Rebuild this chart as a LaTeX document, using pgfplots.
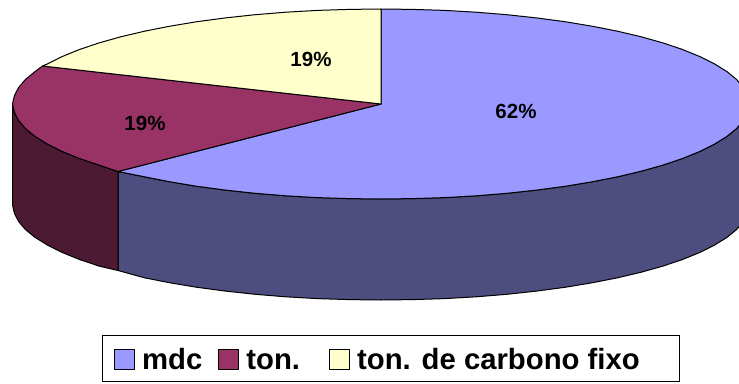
\documentclass[border=0pt]{standalone}
\usepackage{pgfplots}
\pgfplotsset{compat=1.18}
\usepackage{fontspec}
\setmainfont{Liberation Sans}
\definecolor{mdcTop}{HTML}{9999FF}
\definecolor{mdcSide}{HTML}{4D4D80}
\definecolor{tonTop}{HTML}{993366}
\definecolor{tonSide}{HTML}{4D1A33}
\definecolor{fixTop}{HTML}{FFFFCC}
\begin{document}
\begin{tikzpicture}
\path[use as bounding box] (0,0) rectangle (739pt,383pt);
\begin{axis}[
  at={(0,0)}, anchor=south west,
  width=739pt, height=383pt, scale only axis,
  xmin=0, xmax=739, ymin=0, ymax=383, y dir=reverse,
  hide axis, clip=true,
  legend columns=-1,
  legend image code/.code={
    \draw[#1, line width=1pt] (-4pt,-11pt) rectangle (16pt,9pt);
  },
  legend style={
    at={(axis cs:391,358)}, anchor=center,
    draw=black, line width=0.9pt, fill=white,
    font=\fontsize{29.3}{32}\selectfont\bfseries,
    inner xsep=12pt, inner ysep=5pt,
    /tikz/every odd column/.append style={column sep=5pt},
    /tikz/every even column/.append style={column sep=14pt},
    nodes={inner xsep=2pt, inner ysep=1.5pt, text height=28pt, text depth=5pt},
  },
  every axis plot/.append style={draw=black, line width=1pt, line join=round},
]
% Outer walls of the disc
\addplot[fill=mdcSide, forget plot] coordinates {
  (749,104) (747.6,112.3) (743.4,120.5) (736.5,128.6) (726.8,136.5) (714.5,144.1)
  (699.7,151.5) (682.5,158.5) (662.9,165.1) (641.2,171.2) (617.5,176.8) (592.1,181.8)
  (565,186.3) (536.5,190.1) (506.9,193.3) (476.2,195.8) (444.9,197.6) (413.1,198.6)
  (381,199) (348.9,198.6) (317.1,197.6) (285.8,195.8) (255.1,193.3) (225.5,190.1)
  (197,186.3) (169.9,181.8) (144.5,176.8) (118,171.5)
  (118,270.5) (144.5,277.8) (169.9,282.8) (197,287.3) (225.5,291.1) (255.1,294.3)
  (285.8,296.8) (317.1,298.6) (348.9,299.6) (381,300) (413.1,299.6) (444.9,298.6)
  (476.2,296.8) (506.9,294.3) (536.5,291.1) (565,287.3) (592.1,282.8) (617.5,277.8)
  (641.2,272.2) (662.9,266.1) (682.5,259.5) (699.7,252.5) (714.5,245.1) (726.8,237.5)
  (736.5,229.6) (743.4,221.5) (747.6,213.3) (749,205)
} -- cycle;
\addplot[fill=tonSide, forget plot] coordinates {
  (118,171.5) (99.1,165.1) (79.5,158.5) (62.3,151.5) (47.5,144.1) (35.2,136.5)
  (25.5,128.6) (18.6,120.5) (14.4,112.3) (12.5,104)
  (12.5,205) (14.4,213.3) (18.6,221.5) (25.5,229.6) (35.2,237.5) (47.5,245.1)
  (62.3,252.5) (79.5,259.5) (99.1,266.1) (118,270.5)
} -- cycle;
% Top faces
\addplot[fill=mdcTop] coordinates {
  (381,104) (381,9) (413.1,9.4) (444.9,10.4) (476.2,12.2) (506.9,14.7) (536.5,17.9)
  (565,21.7) (592.1,26.2) (617.5,31.2) (641.2,36.8) (662.9,42.9) (682.5,49.5)
  (699.7,56.5) (714.5,63.9) (726.8,71.5) (736.5,79.4) (743.4,87.5) (747.6,95.7)
  (749,104) (747.6,112.3) (743.4,120.5) (736.5,128.6) (726.8,136.5) (714.5,144.1)
  (699.7,151.5) (682.5,158.5) (662.9,165.1) (641.2,171.2) (617.5,176.8) (592.1,181.8)
  (565,186.3) (536.5,190.1) (506.9,193.3) (476.2,195.8) (444.9,197.6) (413.1,198.6)
  (381,199) (348.9,198.6) (317.1,197.6) (285.8,195.8) (255.1,193.3) (225.5,190.1)
  (197,186.3) (169.9,181.8) (144.5,176.8) (118,171.5)
} -- cycle;
\addlegendentry{mdc}
\addplot[fill=tonTop] coordinates {
  (381,104) (118,171.5) (99.1,165.1) (79.5,158.5) (62.3,151.5) (47.5,144.1) (35.2,136.5)
  (25.5,128.6) (18.6,120.5) (14.4,112.3) (12.5,104) (14.4,95.7) (18.6,87.5) (25.5,79.4)
  (35.2,71.5) (42.5,66)
} -- cycle;
\addlegendentry{ton.\rule{13pt}{0pt}}
\addplot[fill=fixTop] coordinates {
  (381,104) (42.5,66) (47.5,63.9) (62.3,56.5) (79.5,49.5) (99.1,42.9) (120.8,36.8)
  (144.5,31.2) (169.9,26.2) (197,21.7) (225.5,17.9) (255.1,14.7) (285.8,12.2)
  (317.1,10.4) (348.9,9.4) (381,9)
} -- cycle;
\addlegendentry{ton. de carbono fixo\rule{26pt}{0pt}}
% Share of each slice
\node[font=\fontsize{20.5}{24}\selectfont\bfseries] at (axis cs:516,111) {62\%};
\node[font=\fontsize{20.5}{24}\selectfont\bfseries] at (axis cs:311,59) {19\%};
\node[font=\fontsize{20.5}{24}\selectfont\bfseries] at (axis cs:145,123) {19\%};
\end{axis}
\end{tikzpicture}
\end{document}
